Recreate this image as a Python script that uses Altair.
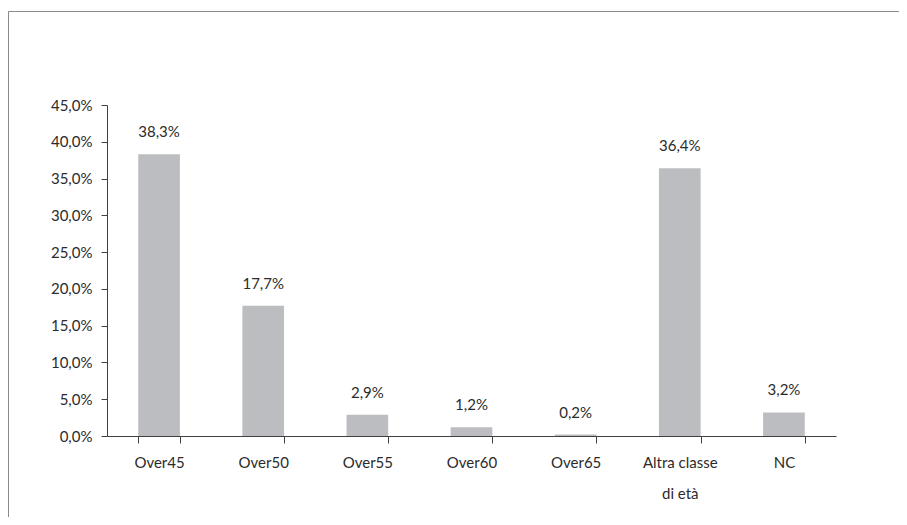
import altair as alt
import pandas as pd

categories = ["Over45", "Over50", "Over55", "Over60", "Over65", "Altra classe di età", "NC"]
values = [38.3, 17.7, 2.9, 1.2, 0.2, 36.4, 3.2]
y_ticks = [0, 5, 10, 15, 20, 25, 30, 35, 40, 45]

df = pd.DataFrame({
    "cat": categories,
    "val": values,
    "lab": [f"{v:.1f}".replace(".", ",") + "%" for v in values],
})

FONT = "Lato"
TEXT_COLOR = "#2b2b2b"
AXIS_COLOR = "#404040"
FRAME_COLOR = "#8a8a8a"

x_enc = alt.X(
    "cat:N",
    sort=categories,
    title=None,
    scale=alt.Scale(paddingInner=0.6, paddingOuter=0.3),
    axis=alt.Axis(
        labelAngle=0,
        labelExpr="datum.value == 'Altra classe di età' ? ['Altra classe', 'di età'] : datum.value",
        labelLineHeight=31,
        labelFontSize=15,
        labelFont=FONT,
        labelColor=TEXT_COLOR,
        labelBaseline="top",
        labelPadding=12,
        tickBand="extent",
        tickSize=7,
        tickColor=AXIS_COLOR,
        domainColor=AXIS_COLOR,
        grid=False,
    ),
)

y_enc = alt.Y(
    "val:Q",
    title=None,
    scale=alt.Scale(domain=[0, 45], nice=False),
    axis=alt.Axis(
        values=y_ticks,
        labelOverlap=False,
        labelExpr="replace(format(datum.value, '.1f'), '.', ',') + '%'",
        labelFontSize=15,
        labelFont=FONT,
        labelColor=TEXT_COLOR,
        labelPadding=9,
        tickSize=6,
        tickColor=AXIS_COLOR,
        domainColor=AXIS_COLOR,
        grid=False,
    ),
)

bars = alt.Chart(df).mark_bar(color="#bcbdc0").encode(x=x_enc, y=y_enc)

text = alt.Chart(df).mark_text(
    font=FONT, fontSize=15, color=TEXT_COLOR, dy=-17, baseline="alphabetic"
).encode(x=x_enc, y=y_enc, text="lab:N")

one = pd.DataFrame({"a": [0]})
frame_top = alt.Chart(one).mark_rule(stroke=FRAME_COLOR, strokeWidth=1).encode(
    x=alt.value(-98.5), x2=alt.value(820), y=alt.value(-93.5)
)
frame_left = alt.Chart(one).mark_rule(stroke=FRAME_COLOR, strokeWidth=1).encode(
    x=alt.value(-98.5), y=alt.value(-93.5), y2=alt.value(440)
)

chart = alt.layer(frame_top, frame_left, bars, text).properties(
    width=729,
    height=331,
    autosize="none",
    background="white",
    padding={"left": 99, "top": 97, "right": 63, "bottom": 81},
).configure_view(stroke="transparent", strokeWidth=0)

chart.save("out.html", embed_options={"renderer": "svg", "actions": False})
